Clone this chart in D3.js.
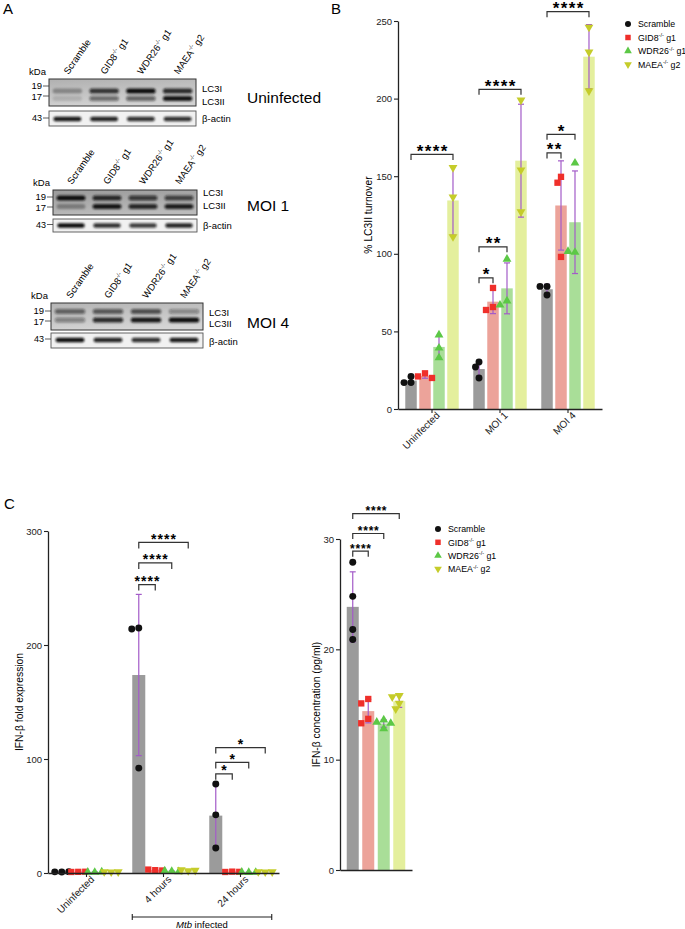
<!DOCTYPE html>
<html><head><meta charset="utf-8">
<script src="https://cdn.jsdelivr.net/npm/d3@7"></script>
<style>
body{margin:0;background:#fff;}
svg{font-family:Arial,"Liberation Sans",Helvetica,sans-serif;}
</style></head><body>
<svg id="fig" width="685" height="929"></svg>
<script>
// ---------------- DATA ----------------
const seriesNames = ['Scramble','GID8','WDR26','MAEA'];
const seriesGuides = ['', 'g1', 'g1', 'g2'];

// Panel A: western blots (relative band intensities 0..1)
const blotConditions = ['Uninfected','MOI 1','MOI 4'];
const lc3iBand  = [[0.30,0.80,1.00,0.85],[1.00,0.85,0.75,0.70],[0.55,0.60,0.65,0.35]];
const lc3iiBand = [[0.12,0.50,0.55,0.95],[0.30,0.95,0.85,0.90],[0.40,0.85,0.95,1.00]];
const actinBand = [[0.95,0.90,0.85,0.85],[1.00,0.85,0.80,0.90],[1.00,0.90,0.85,0.95]];
const kDaMarks = ['19','17','43'];
const bandNames = ['LC3I','LC3II','β-actin'];

// Panel B: % LC3II turnover
const lc3Groups = ['Uninfected','MOI 1','MOI 4'];
const lc3Scramble = [[21,17,17],[30.3,27,20],[79,79,73.5]];
const lc3GID8     = [[23,21,20],[78,65.7,63.8],[149.6,145.8,98]];
const lc3WDR26    = [[47.7,39.3,33],[96.6,69.6,67],[158.5,101,101.5]];
const lc3MAEA     = [[155.5,136.6,111],[199,154,127],[246,230,205]];
const lc3Ticks = [0,50,100,150,200,250];
// [group, compared series, bracket level, label]
const lc3Brackets = [['Uninfected',3,164,'****'],['MOI 1',1,84.5,'*'],['MOI 1',2,104.5,'**'],['MOI 1',3,206,'****'],
                     ['MOI 4',1,165,'**'],['MOI 4',2,177,'*'],['MOI 4',3,256,'****']];

// Panel C left: IFN-β fold expression
const ifnGroups = ['Uninfected','4 hours','24 hours'];
const ifnScramble = [[0.8,1.0,1.2],[215,214,92],[78,51,22]];
const ifnGID8     = [[1.0,0.9,1.1],[2.5,3.0,2.2],[1.2,0.9,1.0]];
const ifnWDR26    = [[0.6,0.8,1.0],[1.5,1.8,1.2],[0.5,0.7,0.6]];
const ifnMAEA     = [[0.9,1.1,1.0],[2.0,2.8,2.4],[0.9,1.1,1.0]];
const ifnTicks = [0,100,200,300];
const ifnBrackets = [['4 hours',1,253,'****'],['4 hours',2,272,'****'],['4 hours',3,290,'****'],
                     ['24 hours',1,87,'*'],['24 hours',2,97,'*'],['24 hours',3,110,'*']];

// Panel C right: IFN-β concentration (pg/ml)
const concGroups = ['IFN-β'];
const concScramble = [27.9,24.8,21.8,20.9];
const concGID8     = [15.5,15.1,13.7,13.3];
const concWDR26    = [13.6,13.4,13.3,12.8];
const concMAEA     = [15.8,15.7,15.1,14.6];
const concTicks = [0,10,20,30];
const concBrackets = [['IFN-β',1,28.9,'****'],['IFN-β',2,30.5,'****'],['IFN-β',3,32.3,'****']];

// ---------------- STYLE ----------------
const barColors = ['#9b9b9b','#eca39a','#a9de98','#e4ef9d'];
const ptColors  = ['#111111','#ef2f2a','#5cc846','#c5cc2a'];
const symbols   = [d3.symbolCircle, d3.symbolSquare, d3.symbolTriangle, d3.symbolTriangle];
const symRot    = [0,0,0,180];
const symSize   = [38,40,34,34];
const errColor  = '#a35bc8';
const axisColor = '#222';

const svg = d3.select('#fig');
const defs = svg.append('defs');
defs.append('filter').attr('id','blur').attr('x','-30%').attr('y','-100%').attr('width','160%').attr('height','300%')
  .append('feGaussianBlur').attr('stdDeviation',1.3);

// panel letters
[['A',3,14],['B',331,14],['C',4,509]].forEach(([t,x,y])=>{
  svg.append('text').attr('x',x).attr('y',y).attr('font-size',15).text(t);
});

// ---------------- PANEL A ----------------
const blotLayout = [
  {x:49,y:79,w:147,h:27,b:[12,19.5],tick:[7,17],ay:111,ah:15,ab:8,bg:['#b0b0b0','#d2d2d2'],labelY:75,
   kdaY:74.5,lc3Y:[91.5,104.5],actY:121.5,condY:102.5},
  {x:53,y:190,w:144,h:25,b:[8,16.5],tick:[7,17],ay:219,ah:13,ab:6.5,bg:['#9a9a9a','#bbbbbb'],labelY:185,
   kdaY:185.5,lc3Y:[195.5,208.5],actY:228.5,condY:210.5},
  {x:51,y:303,w:152,h:27,b:[8.5,17],tick:[8,18],ay:333,ah:15,ab:7,bg:['#b4b4b4','#d4d4d4'],labelY:299,
   kdaY:298.5,lc3Y:[315.5,326.5],actY:344.5,condY:327.5}
];

blotConditions.forEach((cond,bi)=>{
  const L = blotLayout[bi];
  const g = svg.append('g');
  const lw = L.w/seriesNames.length;
  const grad = defs.append('linearGradient').attr('id','bg'+bi).attr('x1',0).attr('y1',0).attr('x2',0.3).attr('y2',1);
  grad.append('stop').attr('offset',0).attr('stop-color',L.bg[0]);
  grad.append('stop').attr('offset',1).attr('stop-color',L.bg[1]);
  defs.append('clipPath').attr('id','clipA'+bi).append('rect').attr('x',L.x).attr('y',L.y).attr('width',L.w).attr('height',L.h);
  defs.append('clipPath').attr('id','clipB'+bi).append('rect').attr('x',L.x).attr('y',L.ay).attr('width',L.w).attr('height',L.ah);

  // lane labels
  seriesNames.forEach((n,i)=>{
    const cx = L.x + lw*(i+0.5) + 1;
    const t = g.append('text').attr('transform',`translate(${cx},${L.labelY}) rotate(-55)`).attr('font-size',9.5);
    t.append('tspan').text(n);
    if(i>0){
      t.append('tspan').attr('font-size',6).attr('dy',-4).text('-/-');
      t.append('tspan').attr('dy',4).text(' '+seriesGuides[i]);
    }
  });

  // LC3 box
  g.append('rect').attr('x',L.x).attr('y',L.y).attr('width',L.w).attr('height',L.h).attr('fill',`url(#bg${bi})`);
  const bands = g.append('g').attr('clip-path',`url(#clipA${bi})`).append('g').attr('filter','url(#blur)');
  [lc3iBand[bi], lc3iiBand[bi]].forEach((arr,k)=>{
    arr.forEach((v,i)=>{
      bands.append('rect').attr('x',L.x+lw*i+lw*0.1).attr('width',lw*0.8)
        .attr('y',L.y+L.b[k]-2.6).attr('height',5.2).attr('rx',2.5)
        .attr('fill','#111').attr('opacity',v);
    });
  });
  g.append('rect').attr('x',L.x).attr('y',L.y).attr('width',L.w).attr('height',L.h).attr('fill','none').attr('stroke','#333').attr('stroke-width',1);

  // actin box
  g.append('rect').attr('x',L.x).attr('y',L.ay).attr('width',L.w).attr('height',L.ah).attr('fill','#f1f1f1');
  const ab = g.append('g').attr('clip-path',`url(#clipB${bi})`).append('g').attr('filter','url(#blur)');
  actinBand[bi].forEach((v,i)=>{
    ab.append('rect').attr('x',L.x+lw*i+lw*0.12).attr('width',lw*0.76)
      .attr('y',L.ay+L.ab-2.3).attr('height',4.6).attr('rx',2.2).attr('fill','#111').attr('opacity',v);
  });
  g.append('rect').attr('x',L.x).attr('y',L.ay).attr('width',L.w).attr('height',L.ah).attr('fill','none').attr('stroke','#555').attr('stroke-width',0.9);

  // kDa markers
  g.append('text').attr('x',L.x-3).attr('y',L.kdaY).attr('text-anchor','end').attr('font-size',9.5).text('kDa');
  const markY = [L.y+L.tick[0], L.y+L.tick[1], L.ay+L.ab-1];
  const markDy = [2.6, 4.4, 3.3];
  kDaMarks.forEach((m,k)=>{
    g.append('line').attr('x1',L.x-6).attr('x2',L.x).attr('y1',markY[k]).attr('y2',markY[k]).attr('stroke','#333').attr('stroke-width',0.8);
    g.append('text').attr('x',L.x-7).attr('y',markY[k]+markDy[k]).attr('text-anchor','end').attr('font-size',k===2?9:9.5).text(m);
  });
  // band names
  const nameY = [L.lc3Y[0], L.lc3Y[1], L.actY];
  bandNames.forEach((n,k)=>{
    g.append('text').attr('x',L.x+L.w+6).attr('y',nameY[k]).attr('font-size',9.5).text(n);
  });
  g.append('text').attr('x',247).attr('y',L.condY).attr('font-size',15.5).text(cond);
});

// ---------------- GENERIC GROUPED CHART ----------------
function drawChart(c){
  const root = svg.append('g');
  const cxOf = (grp,si)=> c.x0(grp) + c.x1(si) + c.x1.bandwidth()/2;
  // bars
  c.groups.forEach((grp,gi)=>{
    seriesNames.forEach((s,si)=>{
      const m = d3.mean(c.values[si][gi]);
      root.append('rect').attr('x',c.x0(grp)+c.x1(si)).attr('width',c.x1.bandwidth())
        .attr('y',c.y(m)).attr('height',c.y(0)-c.y(m)).attr('fill',barColors[si]);
    });
  });
  // error bars
  c.groups.forEach((grp,gi)=>{
    seriesNames.forEach((s,si)=>{
      const pts = c.values[si][gi];
      const m = d3.mean(pts), sd = d3.deviation(pts);
      const cx = cxOf(grp,si);
      const e = root.append('g').attr('stroke',errColor).attr('stroke-width',1.2);
      e.append('line').attr('x1',cx).attr('x2',cx).attr('y1',c.y(m-sd)).attr('y2',c.y(m+sd));
      [m-sd,m+sd].forEach(v=> e.append('line').attr('x1',cx-3).attr('x2',cx+3).attr('y1',c.y(v)).attr('y2',c.y(v)));
    });
  });
  // points (simple collision offsets)
  c.groups.forEach((grp,gi)=>{
    seriesNames.forEach((s,si)=>{
      const cx = cxOf(grp,si);
      const placed = [];
      c.values[si][gi].forEach(v=>{
        const py = c.y(v);
        const offs = [0,-c.jit,c.jit,-2*c.jit,2*c.jit];
        let off = offs[offs.length-1];
        for(const o of offs){
          if(placed.every(p=> Math.hypot(p[0]-o,p[1]-py) >= c.minD)){ off=o; break; }
        }
        placed.push([off,py]);
        root.append('path').attr('d',d3.symbol().type(symbols[si]).size(symSize[si]*c.symScale)())
          .attr('transform',`translate(${cx+off},${py}) rotate(${symRot[si]})`)
          .attr('fill',ptColors[si]);
      });
    });
  });
  // axes
  const ya = root.append('g').attr('transform',`translate(${c.x0.range()[0]},0)`)
    .call(d3.axisLeft(c.y).tickValues(c.ticks).tickSize(4).tickPadding(2).tickSizeOuter(0));
  const xa = root.append('g').attr('transform',`translate(0,${c.y(0)})`)
    .call(d3.axisBottom(c.x0).tickSize(c.xTicks?4:0).tickSizeOuter(0));
  [ya,xa].forEach(a=>{
    a.select('.domain').attr('stroke',axisColor).attr('stroke-width',1.3);
    a.selectAll('.tick line').attr('stroke',axisColor).attr('stroke-width',1.1);
    a.selectAll('text').attr('font-size',9.5).attr('fill','#222').attr('font-family','Arial,"Liberation Sans",sans-serif');
  });
  if(c.xTicks){
    xa.selectAll('.tick text').attr('text-anchor','end').attr('transform','rotate(-45)').attr('dx','1').attr('dy','5').attr('y',6).attr('x',0).attr('font-size',10);
  } else {
    xa.selectAll('.tick text').remove();
  }
  // y label
  root.append('text').attr('transform',`translate(${c.yLabelX},${(c.y.range()[0]+c.y.range()[1])/2}) rotate(-90)`)
    .attr('text-anchor','middle').attr('font-size',10.3).text(c.yLabel);
  // brackets
  c.brackets.forEach(([grp,to,lvl,lab])=>{
    const x1 = cxOf(grp,0), x2 = cxOf(grp,to), yy = c.y(lvl);
    root.append('path').attr('d',`M${x1},${yy+c.bh}V${yy}H${x2}V${yy+c.bh}`)
      .attr('fill','none').attr('stroke','#333').attr('stroke-width',1.2);
    root.append('text').attr('x',(x1+x2)/2 + c.starLS/2).attr('y',yy+c.starDy).attr('text-anchor','middle')
      .attr('font-size',c.starFont).attr('font-weight','bold').attr('letter-spacing',c.starLS).text(lab);
  });
  return {root, cxOf};
}

// legend
function drawLegend(x,y,dy){
  seriesNames.forEach((n,i)=>{
    svg.append('path').attr('d',d3.symbol().type(symbols[i]).size(symSize[i]*0.75)())
      .attr('transform',`translate(${x},${y+i*dy}) rotate(${symRot[i]})`).attr('fill',ptColors[i]);
    const t = svg.append('text').attr('x',x+10).attr('y',y+i*dy+3.2).attr('font-size',8.8);
    t.append('tspan').text(n);
    if(i>0){
      t.append('tspan').attr('font-size',5.5).attr('dy',-3.5).text('-/-');
      t.append('tspan').attr('dy',3.5).text(' '+seriesGuides[i]);
    }
  });
}

// ---------------- PANEL B ----------------
const yB = d3.scaleLinear().domain([0,250]).range([409,21]);
const xB0 = d3.scaleBand().domain(lc3Groups).range([398,602]);
const xB1 = d3.scaleBand().domain(d3.range(4)).range([0,xB0.bandwidth()]).paddingInner(0.18).paddingOuter(0.52);
drawChart({groups:lc3Groups, values:[lc3Scramble,lc3GID8,lc3WDR26,lc3MAEA], x0:xB0, x1:xB1, y:yB,
  ticks:lc3Ticks, xTicks:true, yLabel:'% LC3II turnover', yLabelX:372, brackets:lc3Brackets,
  bh:5.5, starFont:17, starLS:1.4, starDy:2.5, jit:3.5, minD:6, symScale:1});
drawLegend(628,24,13.5);

// ---------------- PANEL C left ----------------
const yCL = d3.scaleLinear().domain([0,300]).range([873,531]);
const xCL0 = d3.scaleBand().domain(ifnGroups).range([48,279]);
const xCL1 = d3.scaleBand().domain(d3.range(4)).range([0,xCL0.bandwidth()]).paddingInner(0.21).paddingOuter(0.44);
drawChart({groups:ifnGroups, values:[ifnScramble,ifnGID8,ifnWDR26,ifnMAEA], x0:xCL0, x1:xCL1, y:yCL,
  ticks:ifnTicks, xTicks:true, yLabel:'IFN-β fold expression', yLabelX:23, brackets:ifnBrackets,
  bh:6, starFont:14, starLS:1, starDy:1.5, jit:3.5, minD:5, symScale:1});
// Mtb infected bracket
{
  const xa = xCL0('4 hours') + xCL1(0), xb = xCL0('24 hours') + xCL1(3) + xCL1.bandwidth();
  const yy = 917;
  svg.append('path').attr('d',`M${xa},${yy-3}V${yy+3}M${xa},${yy}H${xb}M${xb},${yy-3}V${yy+3}`)
    .attr('stroke','#222').attr('stroke-width',1.1).attr('fill','none');
  const t = svg.append('text').attr('x',(xa+xb)/2).attr('y',928).attr('text-anchor','middle').attr('font-size',9.5);
  t.append('tspan').attr('font-style','italic').text('Mtb');
  t.append('tspan').text(' infected');
}

// ---------------- PANEL C right ----------------
const yCR = d3.scaleLinear().domain([0,30]).range([870,539]);
const xCR0 = d3.scaleBand().domain(concGroups).range([340,412]);
const xCR1 = d3.scaleBand().domain(d3.range(4)).range([0,xCR0.bandwidth()]).paddingInner(0.226).paddingOuter(0.435);
drawChart({groups:concGroups, values:[[concScramble],[concGID8],[concWDR26],[concMAEA]], x0:xCR0, x1:xCR1, y:yCR,
  ticks:concTicks, xTicks:false, yLabel:'IFN-β concentration (pg/ml)', yLabelX:320, brackets:concBrackets,
  bh:5.5, starFont:12, starLS:0.8, starDy:1.5, jit:3.5, minD:6, symScale:1});
drawLegend(438,529,13.3);
</script>
</body></html>
